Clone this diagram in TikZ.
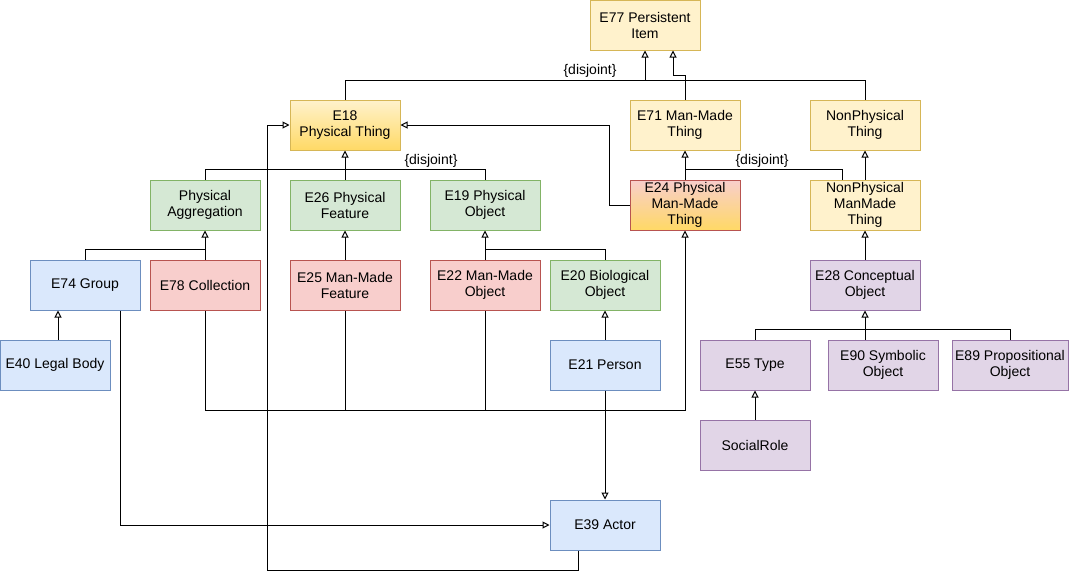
\documentclass[tikz,border=0pt]{standalone}
\usepackage{fontspec}
\setmainfont{Liberation Sans}
\usetikzlibrary{arrows.meta,positioning}
\definecolor{yelfill}{HTML}{FFF2CC}
\definecolor{yelline}{HTML}{D6B656}
\definecolor{goldfill}{HTML}{FFD966}
\definecolor{grnfill}{HTML}{D5E8D4}
\definecolor{grnline}{HTML}{82B366}
\definecolor{pnkfill}{HTML}{F8CECC}
\definecolor{pnkline}{HTML}{B85450}
\definecolor{blufill}{HTML}{DAE8FC}
\definecolor{bluline}{HTML}{6C8EBF}
\definecolor{purfill}{HTML}{E1D5E7}
\definecolor{purline}{HTML}{9673A6}
\tikzset{
  cls/.style={draw, align=center, minimum width=110pt, minimum height=50pt,
              inner sep=2pt, line width=1pt, font=\fontsize{14}{16}\selectfont},
  yellowbox/.style={cls, fill=yelfill, draw=yelline},
  goldbox/.style={cls, top color=yelfill, bottom color=goldfill, draw=yelline},
  pinkgoldbox/.style={cls, top color=pnkfill, bottom color=goldfill, draw=pnkline},
  greenbox/.style={cls, fill=grnfill, draw=grnline},
  pinkbox/.style={cls, fill=pnkfill, draw=pnkline},
  bluebox/.style={cls, fill=blufill, draw=bluline},
  purplebox/.style={cls, fill=purfill, draw=purline},
  link/.style={line width=1pt},
  isa/.style={-{Triangle[open,length=7pt,width=7pt]}, line width=1pt},
  tag/.style={font=\fontsize{14}{16}\selectfont},
}

\begin{document}
\begin{tikzpicture}[x=1pt, y=-1pt]
  \useasboundingbox (0,0) rectangle (1071,579);
  % upper classes
  \node[yellowbox] (persist) at (645,25) {E77 Persistent\\ Item};
  \node[goldbox] (physthing) at (345,125) {E18\\ Physical Thing};
  \node[yellowbox] (manmade) at (685,125) {E71 Man-Made\\ Thing};
  \node[yellowbox] (nonphys) at (865,125) {NonPhysical\\ Thing};

  \node[greenbox] (aggr) at (205,205) {Physical\\ Aggregation};
  \node[greenbox] (feature) at (345,205) {E26 Physical\\ Feature};
  \node[greenbox] (physobj) at (485,205) {E19 Physical\\ Object};
  \node[pinkgoldbox] (pmmthing) at (685,205) {E24 Physical\\ Man-Made\\ Thing};
  \node[yellowbox] (npmm) at (865,205) {NonPhysical\\ ManMade\\ Thing};

  % lower classes
  \node[bluebox] (group) at (85,285) {E74 Group};
  \node[pinkbox] (coll) at (205,285) {E78 Collection};
  \node[pinkbox] (mmfeat) at (345,285) {E25 Man-Made\\ Feature};
  \node[pinkbox] (mmobj) at (485,285) {E22 Man-Made\\ Object};
  \node[greenbox] (bio) at (605,285) {E20 Biological\\ Object};
  \node[purplebox] (concept) at (865,285) {E28 Conceptual\\ Object};

  \node[bluebox] (legal) at (55,365) {E40 Legal Body};
  \node[bluebox] (person) at (605,365) {E21 Person};
  \node[purplebox] (type) at (755,365) {E55 Type};
  \node[purplebox] (symb) at (883,365) {E90 Symbolic\\ Object};
  \node[purplebox, minimum width=116pt] (prop) at (1010,365) {E89 Propositional\\ Object};
  \node[purplebox] (role) at (755,445) {SocialRole};
  \node[bluebox] (actor) at (605,525) {E39 Actor};

  \node[tag] (dj1) at (590,71) {\{disjoint\}};
  \node[tag] (dj2) at (431,161) {\{disjoint\}};
  \node[tag] (dj3) at (762,161) {\{disjoint\}};

  % generalisations to E77
  \draw[link] (physthing.north) |- (nonphys.north |- 0,80) -- (nonphys.north);
  \draw[isa] (persist.south |- 0,80) -- (persist.south);
  \draw[isa] (manmade.north) |- (673,75) -- (persist.south -| 673,0);

  % E18 and its subclasses
  \draw[link] (aggr.north) -- ++(0,-10) -| (physobj.north);
  \draw[isa] (feature.north) -- (physthing.south);
  \draw[isa] (pmmthing.west) -- ++(-20,0) |- (physthing.east);
  \draw[isa] ([xshift=-27pt]actor.south) -- ++(0,20) -| ([xshift=-22pt]physthing.west)
    -- (physthing.west);

  \draw[link] (group.north) -- ++(0,-10) -| (coll.north);
  \draw[isa] (coll.north) -- (aggr.south);
  \draw[isa] (mmfeat.north) -- (feature.south);
  \draw[link] (mmobj.north) -- ++(0,-10) -| (bio.north);
  \draw[isa] (mmobj.north) -- (physobj.south);
  \draw[isa] (person.north) -- (bio.south);
  \draw[isa] ([xshift=3pt]legal.north) -- ([xshift=3pt]legal.north |- group.south);

  % actors
  \draw[isa] ([xshift=35pt]group.south) |- (actor.west);
  \draw[isa] (person.south) -- (actor.north);

  % man-made things
  \draw[isa] (coll.south) -- ++(0,100) -| (pmmthing.south);
  \draw[link] (mmfeat.south) -- ++(0,100);
  \draw[link] (mmobj.south) -- ++(0,100);

  \draw[link] (pmmthing.north) -- ++(0,-10) -| ([xshift=-23pt]npmm.north);
  \draw[isa] (pmmthing.north) -- (manmade.south);
  \draw[isa] (npmm.north) -- (nonphys.south);
  \draw[isa] (concept.north) -- (npmm.south);

  % conceptual objects
  \draw[link] (type.north) -- ++(0,-10) -| (prop.north);
  \draw[isa] (concept.south |- symb.north) -- (concept.south);
  \draw[isa] (role.north) -- (type.south);
\end{tikzpicture}
\end{document}
